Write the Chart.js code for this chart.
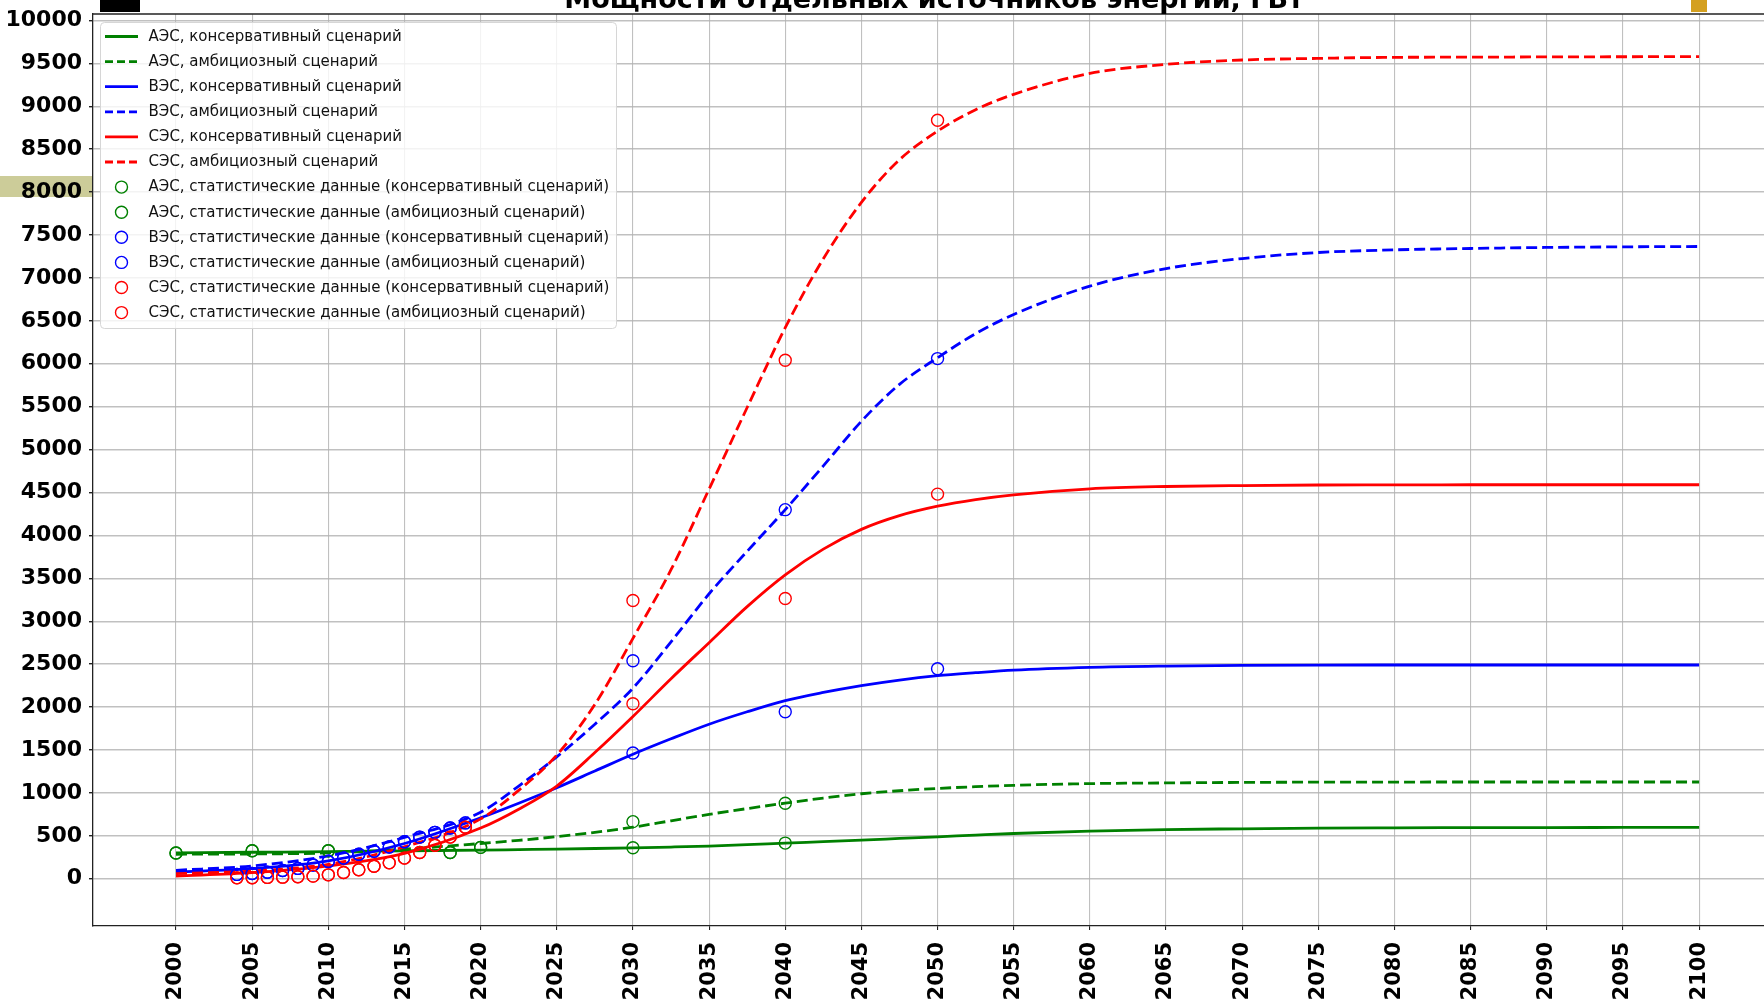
<!DOCTYPE html>
<html>
<head>
<meta charset="utf-8">
<script src="https://cdn.jsdelivr.net/npm/chart.js@4.4.0/dist/chart.umd.min.js"></script>
<style>
html, body { margin: 0; padding: 0; background: #fff; overflow: hidden }
#wrap { width: 1764px; height: 1006px; position: relative; overflow: hidden }
</style>
</head>
<body>
<div id="wrap"><canvas id="chart" width="1772" height="1006"></canvas></div>
<script>
const chartTitle = 'Мощности отдельных источников энергии, ГВт'

// model curves (denser where the curves are steep)
const years = [2000, 2005, 2010, 2015, 2020, 2022.5, 2025, 2027.5, 2030, 2032.5, 2035, 2037.5,
  2040, 2042.5, 2045, 2047.5, 2050, 2052.5, 2055, 2060, 2065, 2070, 2075, 2080, 2085, 2090, 2095, 2100]
const aesConservative = [300, 308, 315, 325, 333, 339, 345, 352, 360, 369, 380, 396,
  415, 432, 450, 469, 488, 508, 527, 554, 573, 581, 589, 593, 595, 596, 597, 597]
const aesAmbitious = [285, 288, 300, 345, 410, 447, 490, 540, 600, 675, 750, 817,
  880, 940, 990, 1025, 1052, 1072, 1088, 1108, 1116, 1122, 1125, 1126, 1127, 1127, 1127, 1127]
const vesConservative = [78, 117, 207, 410, 710, 880, 1060, 1255, 1450, 1630, 1800, 1945,
  2075, 2170, 2250, 2315, 2365, 2400, 2430, 2462, 2477, 2485, 2488, 2490, 2490, 2490, 2490, 2490]
const vesAmbitious = [98, 149, 266, 481, 775, 1080, 1420, 1800, 2220, 2760, 3320, 3815,
  4300, 4810, 5330, 5760, 6070, 6350, 6574, 6904, 7109, 7226, 7296, 7327, 7343, 7355, 7362, 7366]
const sesConservative = [31, 70, 149, 295, 590, 810, 1080, 1470, 1890, 2330, 2750, 3170,
  3540, 3840, 4070, 4230, 4340, 4418, 4473, 4543, 4570, 4581, 4587, 4589, 4590, 4590, 4590, 4590]
const sesAmbitious = [59, 90, 168, 372, 697, 1030, 1440, 2030, 2800, 3600, 4540, 5490,
  6420, 7223, 7880, 8377, 8710, 8960, 9139, 9383, 9488, 9539, 9558, 9570, 9572, 9575, 9577, 9578]

// statistical points
const aesHistYears = [2000, 2005, 2010, 2018, 2020]
const aesHist = [300, 325, 325, 305, 365]
const aesPlanYears = [2030, 2040]
const aesPlanConservative = [360, 415]
const aesPlanAmbitious = [665, 880]

const histYears = [2004, 2005, 2006, 2007, 2008, 2009, 2010, 2011, 2012, 2013, 2014, 2015, 2016, 2017, 2018, 2019]
const vesHist = [50, 60, 75, 95, 120, 160, 200, 240, 285, 320, 370, 430, 485, 540, 590, 650]
const sesHist = [10, 12, 15, 18, 22, 30, 45, 72, 105, 145, 185, 240, 305, 390, 485, 600]
const planYears = [2030, 2040, 2050]
const vesPlanConservative = [1465, 1946, 2446]
const vesPlanAmbitious = [2540, 4300, 6060]
const sesPlanConservative = [2038, 3265, 4481]
const sesPlanAmbitious = [3242, 6040, 8837]

const xTicks = [2000, 2005, 2010, 2015, 2020, 2025, 2030, 2035, 2040, 2045, 2050,
  2055, 2060, 2065, 2070, 2075, 2080, 2085, 2090, 2095, 2100]
const yTicks = [0, 500, 1000, 1500, 2000, 2500, 3000, 3500, 4000, 4500, 5000,
  5500, 6000, 6500, 7000, 7500, 8000, 8500, 9000, 9500, 10000]

const GREEN = '#008000'
const BLUE = '#0000ff'
const RED = '#ff0000'

function pts(xs, ys) {
  return xs.map((x, i) => ({x: x, y: ys[i]}))
}

function lineSet(label, xs, ys, color, dashed) {
  return {
    label: label,
    data: pts(xs, ys),
    borderColor: color,
    borderWidth: 2.8,
    borderDash: dashed ? [11, 5] : [],
    pointRadius: 0,
    fill: false,
    cubicInterpolationMode: 'monotone'
  }
}

function dotSet(label, xs, ys, color) {
  return {
    label: label,
    data: pts(xs, ys),
    showLine: false,
    borderColor: color,
    backgroundColor: 'rgba(0,0,0,0)',
    pointRadius: 6,
    pointBorderWidth: 1.4,
    pointBackgroundColor: 'rgba(0,0,0,0)',
    pointBorderColor: color
  }
}

const datasets = [
  lineSet('АЭС, консервативный сценарий', years, aesConservative, GREEN, false),
  lineSet('АЭС, амбициозный сценарий', years, aesAmbitious, GREEN, true),
  lineSet('ВЭС, консервативный сценарий', years, vesConservative, BLUE, false),
  lineSet('ВЭС, амбициозный сценарий', years, vesAmbitious, BLUE, true),
  lineSet('СЭС, консервативный сценарий', years, sesConservative, RED, false),
  lineSet('СЭС, амбициозный сценарий', years, sesAmbitious, RED, true),
  dotSet('АЭС, статистические данные (консервативный сценарий)', aesHistYears.concat(aesPlanYears), aesHist.concat(aesPlanConservative), GREEN),
  dotSet('АЭС, статистические данные (амбициозный сценарий)', aesHistYears.concat(aesPlanYears), aesHist.concat(aesPlanAmbitious), GREEN),
  dotSet('ВЭС, статистические данные (консервативный сценарий)', histYears.concat(planYears), vesHist.concat(vesPlanConservative), BLUE),
  dotSet('ВЭС, статистические данные (амбициозный сценарий)', histYears.concat(planYears), vesHist.concat(vesPlanAmbitious), BLUE),
  dotSet('СЭС, статистические данные (консервативный сценарий)', histYears.concat(planYears), sesHist.concat(sesPlanConservative), RED),
  dotSet('СЭС, статистические данные (амбициозный сценарий)', histYears.concat(planYears), sesHist.concat(sesPlanAmbitious), RED)
]
// later datasets on top, like matplotlib
datasets.forEach((ds, i) => { ds.order = datasets.length - i })

const backdrop = {
  id: 'backdrop',
  beforeDraw(chart) {
    const ctx = chart.ctx
    ctx.save()
    ctx.fillStyle = '#fff'
    ctx.fillRect(0, 0, chart.width, chart.height)
    ctx.fillStyle = 'rgb(204,204,153)'
    ctx.fillRect(0, 176, 92, 21)
    ctx.restore()
  }
}

const legendBox = {
  id: 'legendBox',
  afterDatasetsDraw(chart) {
    const ctx = chart.ctx
    const area = chart.chartArea
    ctx.save()
    // top spine
    ctx.strokeStyle = '#222'
    ctx.lineWidth = 1.3
    ctx.beginPath()
    ctx.moveTo(area.left, area.top)
    ctx.lineTo(area.right, area.top)
    ctx.stroke()

    ctx.beginPath()
    ctx.roundRect(100.5, 22.5, 516, 306, 4)
    ctx.fillStyle = 'rgba(255,255,255,0.8)'
    ctx.fill()
    ctx.strokeStyle = '#d6d6d6'
    ctx.lineWidth = 1
    ctx.stroke()

    ctx.font = '16.7px "DejaVu Sans Condensed", "DejaVu Sans"'
    ctx.textBaseline = 'middle'
    ctx.textAlign = 'left'
    chart.data.datasets.forEach((ds, i) => {
      const cy = 36.5 + i * 25.1
      ctx.strokeStyle = ds.borderColor
      if (ds.showLine === false) {
        ctx.setLineDash([])
        ctx.lineWidth = ds.pointBorderWidth
        ctx.beginPath()
        ctx.arc(121.5, cy, ds.pointRadius, 0, Math.PI * 2)
        ctx.stroke()
      } else {
        ctx.setLineDash(ds.borderDash.length ? [8, 4] : [])
        ctx.lineWidth = ds.borderWidth
        ctx.beginPath()
        ctx.moveTo(105, cy)
        ctx.lineTo(138, cy)
        ctx.stroke()
      }
      ctx.setLineDash([])
      ctx.fillStyle = '#111'
      ctx.fillText(ds.label, 148.5, cy)
    })
    ctx.restore()
  },
  afterDraw(chart) {
    const ctx = chart.ctx
    ctx.save()
    ctx.font = 'bold 27px "DejaVu Sans"'
    ctx.textAlign = 'center'
    ctx.textBaseline = 'alphabetic'
    ctx.fillStyle = '#000'
    ctx.fillText(chartTitle, 934, 8)
    ctx.fillStyle = '#000'
    ctx.fillRect(100, 0, 40, 12)
    ctx.fillStyle = '#d4a020'
    ctx.fillRect(1691, 0, 16, 12)
    ctx.restore()
  }
}

new Chart(document.getElementById('chart'), {
  type: 'line',
  data: {datasets: datasets},
  options: {
    responsive: false,
    animation: false,
    layout: {padding: {top: 14, left: 0, right: 0, bottom: 0}},
    plugins: {legend: {display: false}, tooltip: {enabled: false}, title: {display: false}},
    scales: {
      x: {
        type: 'linear',
        min: 1994.55,
        max: 2104.3,
        afterBuildTicks: s => { s.ticks = xTicks.map(v => ({value: v})) },
        afterFit: s => { s.height = 80 },
        ticks: {
          autoSkip: false,
          minRotation: 90,
          maxRotation: 90,
          padding: 12,
          color: '#000',
          font: {family: 'DejaVu Sans', weight: 'bold', size: 21},
          callback: v => String(v)
        },
        grid: {color: 'rgba(176,176,176,0.8)', lineWidth: 1.1, tickLength: 4, tickColor: '#222'},
        border: {color: '#222', width: 1.3}
      },
      y: {
        type: 'linear',
        min: -551,
        max: 10075,
        afterBuildTicks: s => { s.ticks = yTicks.map(v => ({value: v})) },
        afterFit: s => { s.width = 93 },
        ticks: {
          autoSkip: false,
          padding: 7,
          color: '#000',
          font: {family: 'DejaVu Sans', weight: 'bold', size: 22, lineHeight: 0.6},
          callback: v => String(v)
        },
        grid: {color: 'rgba(176,176,176,0.8)', lineWidth: 1.4, tickLength: 4, tickColor: '#222'},
        border: {color: '#222', width: 1.3}
      }
    }
  },
  plugins: [backdrop, legendBox]
})
</script>
</body>
</html>
